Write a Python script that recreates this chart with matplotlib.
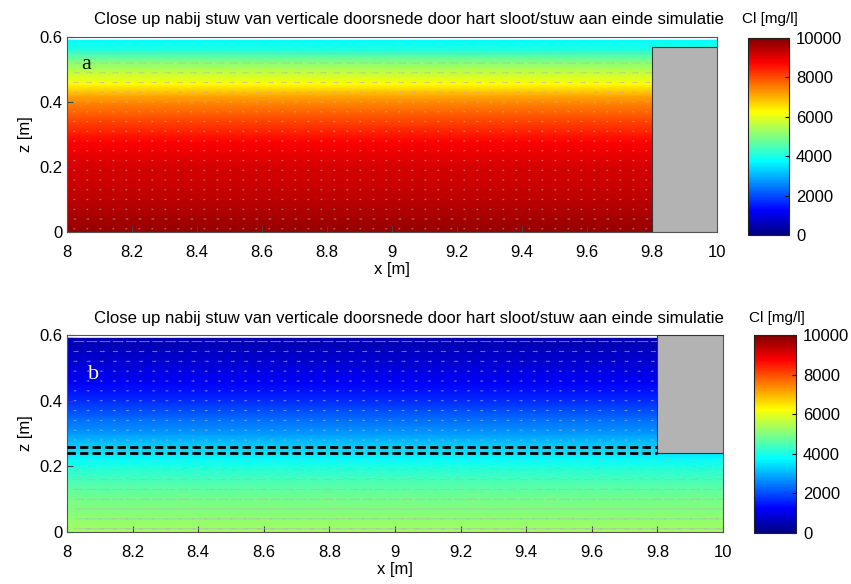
import numpy as np
import matplotlib
matplotlib.use("Agg")
import matplotlib.pyplot as plt
from matplotlib.patches import Rectangle
from matplotlib.colors import LinearSegmentedColormap

# ---------------------------------------------------------
# DATA
# ---------------------------------------------------------
title = "Close up nabij stuw van verticale doorsnede door hart sloot/stuw aan einde simulatie"

# vertical profiles of chloride (mg/l), same along x
z_levels = [0.0, 0.02, 0.05, 0.10, 0.15, 0.20, 0.22, 0.26, 0.275, 0.30, 0.35,
            0.40, 0.42, 0.455, 0.50, 0.53, 0.56, 0.59]
cl_top = [9750, 9700, 9600, 9400, 9250, 9150, 9050, 8850, 8750, 8500, 8000,
          7400, 7100, 6250, 5500, 4900, 4100, 3750]
cl_bottom = [5300, 5250, 5100, 4900, 4500, 4050, 3750, 3250, 3100, 2750, 2250,
             1650, 1500, 1200, 900, 750, 600, 500]

x_edges = [8.0, 10.0]

# flow vectors (grey arrows): rows and horizontal speed per row
q_z = [0.01, 0.04, 0.07, 0.10, 0.13, 0.16, 0.19, 0.22, 0.25, 0.28, 0.31, 0.34,
       0.37, 0.40, 0.43, 0.46, 0.49, 0.52, 0.55, 0.58]
u_top = [0.2, 0.3, 0.2, 0.2, 0.2, 0.2, 0.2, 0.2, 0.2, 0.2, 0.2, 0.2,
         0.2, 0.3, 0.4, 0.5, 0.6, 0.8, 1.2, 1.6]
u_bottom = [1.6, 1.4, 1.2, 1.0, 0.9, 0.8, 0.6, 0.5, 0.3, 0.3, 0.3, 0.3,
            0.3, 0.3, 0.3, 0.3, 0.3, 0.4, 0.5, 1.0]

# weir (stuw) blocks: x0, x1, z0, z1
weir_top = [9.8, 10.0, 0.0, 0.57]
weir_bottom = [9.8, 10.0, 0.24, 0.6]
dash_levels = [0.241, 0.259]

x_ticks = [8, 8.2, 8.4, 8.6, 8.8, 9, 9.2, 9.4, 9.6, 9.8, 10]
x_ticklabels = ["8", "8.2", "8.4", "8.6", "8.8", "9", "9.2", "9.4", "9.6", "9.8", "10"]
z_ticks = [0, 0.2, 0.4, 0.6]
cb_ticks = [0, 2000, 4000, 6000, 8000, 10000]

# MATLAB style jet
jet_m = LinearSegmentedColormap.from_list("jet_m", [
    (0.0, (0, 0, 0.5)), (0.125, (0, 0, 1)), (0.375, (0, 1, 1)),
    (0.625, (1, 1, 0)), (0.875, (1, 0, 0)), (1.0, (0.5, 0, 0))])

plt.rcParams["font.family"] = ["Liberation Sans", "DejaVu Sans"]

fig = plt.figure(figsize=(8.51, 5.84), dpi=100)

panels = [
    dict(ax=[0.0787, 0.6027, 0.7638, 0.3339], cb=[0.879, 0.5976, 0.0482, 0.3373],
         cl=cl_top, u=u_top, xmax_q=9.8, weir=weir_top, label="a", lcol="black",
         lpos=(8.045, 0.515), ty=0.967),
    dict(ax=[0.0787, 0.0890, 0.7709, 0.3373], cb=[0.886, 0.0873, 0.0494, 0.339],
         cl=cl_bottom, u=u_bottom, xmax_q=10.0, weir=weir_bottom, label="b", lcol="white",
         lpos=(8.065, 0.48), ty=0.455),
]

for i, p in enumerate(panels):
    ax = fig.add_axes(p["ax"])
    X, Z = np.meshgrid(x_edges, z_levels)
    C = np.tile(np.array(p["cl"])[:, None], (1, len(x_edges)))
    mesh = ax.pcolormesh(X, Z, C, cmap=jet_m, vmin=0, vmax=10000, shading="gouraud")

    # faint grey flow arrows
    qx = np.arange(8.02, p["xmax_q"], 0.04)
    QX, QZ = np.meshgrid(qx, q_z)
    QU = np.tile(np.array(p["u"])[:, None], (1, len(qx)))
    ax.quiver(QX, QZ, QU, np.zeros_like(QU), color="#b4b4b4", alpha=0.65,
              scale=60, width=0.0014, headwidth=2, headlength=2,
              headaxislength=2, zorder=2)

    x0, x1, z0, z1 = p["weir"]
    ax.add_patch(Rectangle((x0, z0), x1 - x0, z1 - z0, facecolor="#b3b3b3",
                           edgecolor="#333333", linewidth=0.8, zorder=3))
    if i == 1:
        for zl in dash_levels:
            ax.plot([8.0, 9.8], [zl, zl], color="black", linestyle=(0, (3, 1.5)),
                    linewidth=2.0, zorder=4)

    ax.set_xlim(8, 10)
    ax.set_ylim(0, 0.6)
    ax.set_xticks(x_ticks)
    ax.set_xticklabels(x_ticklabels)
    ax.set_yticks(z_ticks)
    ax.set_yticklabels(["0", "0.2", "0.4", "0.6"])
    ax.tick_params(direction="in", length=4, labelsize=12, color="#444444")
    ax.tick_params(axis="x", pad=9)
    ax.tick_params(axis="y", pad=3)
    for s in ax.spines.values():
        s.set_color("#555555")
    ax.set_xlabel("x [m]", fontsize=12, labelpad=2)
    ax.set_ylabel("z [m]", fontsize=12, labelpad=5)
    ax.text(p["lpos"][0], p["lpos"][1], p["label"], color=p["lcol"], fontsize=16,
            family=["Liberation Serif", "DejaVu Serif"], va="center", zorder=5)

    fig.text(0.4806, p["ty"], title, ha="center", va="center", fontsize=12.1)

    cax = fig.add_axes(p["cb"])
    cb = fig.colorbar(mesh, cax=cax, ticks=cb_ticks)
    cb.ax.tick_params(direction="in", length=3, labelsize=12, pad=5)
    cb.outline.set_edgecolor("#222222")
    fig.text(p["cb"][0] + p["cb"][2] / 2 + 0.002, p["ty"], "Cl [mg/l]",
             ha="center", va="center", fontsize=11)

fig.savefig("out.png", dpi=100)
